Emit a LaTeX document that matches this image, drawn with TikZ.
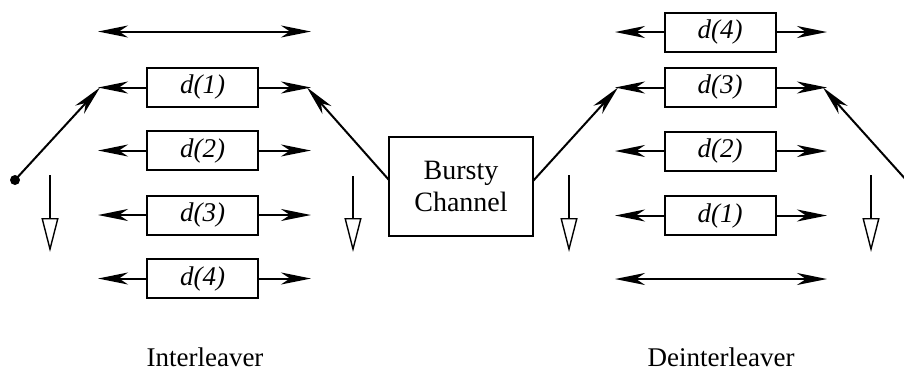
\documentclass[tikz,border=0pt]{standalone}
\usepackage{fontspec}
\setmainfont{Liberation Serif}
\usetikzlibrary{arrows.meta}
\begin{document}
\begin{tikzpicture}[x=0.5pt,y=-0.5pt,
  dbox/.style={draw, line width=1pt, minimum width=55.5pt, minimum height=19.5pt, inner sep=0pt, font=\fontsize{13.5}{16}\selectfont\itshape},
  chanbox/.style={draw, line width=1pt, minimum width=72pt, minimum height=49.5pt, inner sep=0pt, align=center, font=\fontsize{14}{16}\selectfont},
  lbl/.style={font=\fontsize{13.5}{16}\selectfont, anchor=base},
  tip/.tip={Stealth[length=15pt,width=6pt,inset=4.5pt]},
  flow/.style={line width=1pt, -tip},
  both/.style={line width=1pt, tip-tip},
  down/.style={line width=0.7pt, -{Triangle[open,length=17pt,width=8.5pt,fill=white]}},
]
\useasboundingbox (0,0) rectangle (904,371);
\clip (0,0) rectangle (904,371);

% ---------- Interleaver ----------
\node[dbox] (i1) at (202.5,87.5) {d(1)};
\node[dbox] (i2) at (202.5,150.5) {d(2)};
\node[dbox] (i3) at (202.5,215) {d(3)};
\node[dbox] (i4) at (202.5,278.5) {d(4)};

\coordinate (iT0) at (98,31.5);  \coordinate (iR0) at (311,31.5);
\coordinate (iL1) at (98,87.5);  \coordinate (iR1) at (311,87.5);
\coordinate (iL2) at (98,150.5); \coordinate (iR2) at (311,150.5);
\coordinate (iL3) at (98,215);   \coordinate (iR3) at (311,215);
\coordinate (iL4) at (98,278.5); \coordinate (iR4) at (311,278.5);

\draw[both] (iT0) -- (iR0);
\foreach \k in {1,2,3,4}{
  \draw[flow] (i\k.west) -- (iL\k);
  \draw[flow] (i\k.east) -- (iR\k);
}

% input switch
\coordinate (indot) at (15,180);
\fill (indot) circle (5);
\coordinate (iSwL) at (100,87.5);
\draw[flow] (indot) -- (iSwL);

% channel
\node[chanbox] (chan) at (461,186.5) {Bursty\\Channel};
\coordinate (cin) at (389,180);
\coordinate (cout) at (533,181);

% interleaver output switch
\coordinate (iSwR) at (307,87.5);
\draw[flow] (cin) -- (iSwR);

% down arrows
\coordinate (a1s) at (50,175);  \coordinate (a1e) at (50,252);
\coordinate (a2s) at (353,176); \coordinate (a2e) at (353,252);
\coordinate (a3s) at (569,175); \coordinate (a3e) at (569,252);
\coordinate (a4s) at (871,175); \coordinate (a4e) at (871,252);
\draw[down] (a1s) -- (a1e);
\draw[down] (a2s) -- (a2e);
\draw[down] (a3s) -- (a3e);
\draw[down] (a4s) -- (a4e);

% ---------- Deinterleaver ----------
\node[dbox] (o4) at (720,32) {d(4)};
\node[dbox] (o3) at (720,87.5) {d(3)};
\node[dbox] (o2) at (720,151) {d(2)};
\node[dbox] (o1) at (720,215.5) {d(1)};

\coordinate (oL4) at (615,32);    \coordinate (oR4) at (827,32);
\coordinate (oL3) at (615,87.5);  \coordinate (oR3) at (827,87.5);
\coordinate (oL2) at (615,151);   \coordinate (oR2) at (827,151);
\coordinate (oL1) at (615,215.5); \coordinate (oR1) at (827,215.5);
\coordinate (oB0) at (615,279);   \coordinate (oBR) at (827,279);

\foreach \k in {1,2,3,4}{
  \draw[flow] (o\k.west) -- (oL\k);
  \draw[flow] (o\k.east) -- (oR\k);
}
\draw[both] (oB0) -- (oBR);

\coordinate (oSwL) at (618,87.5);
\draw[flow] (cout) -- (oSwL);
\coordinate (outdot) at (908,182);
\coordinate (oSwR) at (823,87.5);
\draw[flow] (outdot) -- (oSwR);

% labels
\node[lbl] (lab1) at (205,366) {Interleaver};
\node[lbl] (lab2) at (721,366) {Deinterleaver};
\end{tikzpicture}
\end{document}
